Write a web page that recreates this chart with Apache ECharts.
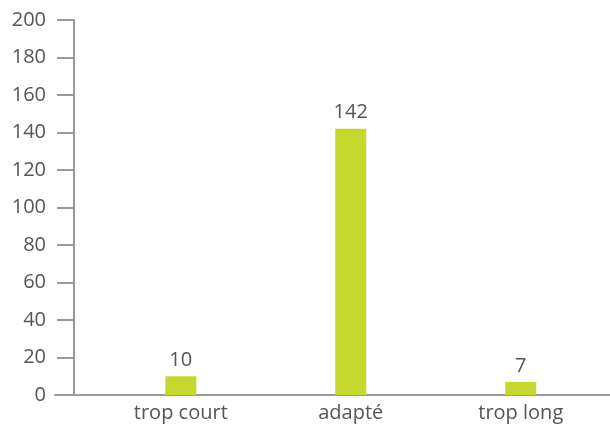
<!DOCTYPE html>
<html>
<head>
<meta charset="utf-8">
<script src="https://cdn.jsdelivr.net/npm/echarts@6/dist/echarts.min.js"></script>
<style>
  html, body { margin: 0; padding: 0; background: #fff; }
  #chart { width: 610px; height: 425px; }
</style>
</head>
<body>
<div id="chart"></div>
<script>
  var categories = ['trop court', 'adapté', 'trop long'];
  var values = [10, 142, 7];
  var yTicks = [0, 20, 40, 60, 80, 100, 120, 140, 160, 180, 200];

  var textColor = '#555555';
  var axisColor = '#9a9a9a';
  var barColor = '#c4d82e';

  var myChart = echarts.init(document.getElementById('chart'));
  var option = {
    animation: false,
    textStyle: { fontFamily: 'Open Sans' },
    grid: { left: 55, right: 0, top: 20, bottom: 30 },
    xAxis: {
      type: 'value',
      min: -0.74,
      max: 2.525,
      splitLine: { show: false },
      axisLine: { show: true, onZero: false, lineStyle: { color: axisColor, width: 2 } },
      axisTick: { show: false },
      axisLabel: {
        customValues: [0, 1, 2],
        formatter: function (v) { return categories[Math.round(v)]; },
        color: textColor,
        fontSize: 20,
        margin: 8
      }
    },
    yAxis: {
      type: 'value',
      min: yTicks[0],
      max: yTicks[yTicks.length - 1],
      interval: 20,
      offset: -19,
      splitLine: { show: false },
      axisLine: { show: true, onZero: false, lineStyle: { color: axisColor, width: 2 } },
      axisTick: { show: true, length: 17, lineStyle: { color: axisColor, width: 2 } },
      axisLabel: { color: textColor, fontSize: 20, margin: 28 }
    },
    series: [{
      type: 'bar',
      data: values.map(function (v, i) { return [i, v]; }),
      barWidth: 31,
      itemStyle: { color: barColor },
      label: {
        show: true,
        position: 'top',
        distance: 6,
        color: textColor,
        fontSize: 20,
        formatter: function (p) { return p.value[1]; }
      }
    }]
  };
  myChart.setOption(option);
</script>
</body>
</html>
